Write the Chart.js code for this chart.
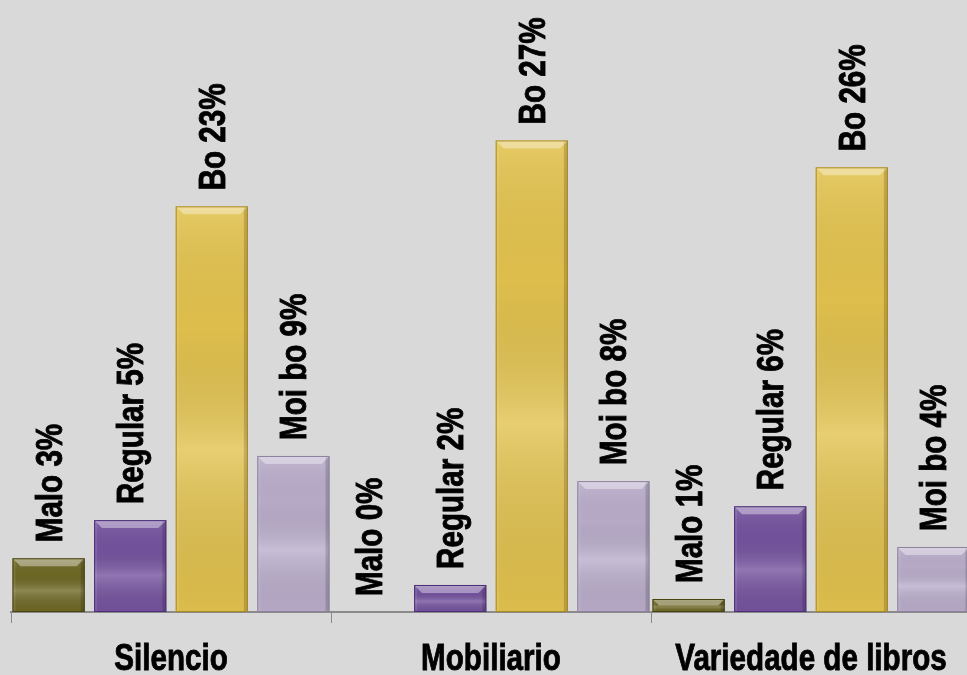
<!DOCTYPE html>
<html>
<head>
<meta charset="utf-8">
<title>Valoración da biblioteca</title>
<script src="https://cdn.jsdelivr.net/npm/chart.js@4.4.0/dist/chart.umd.min.js"></script>
<style>
    html, body { margin: 0; padding: 0; background: #d9d9d9; overflow: hidden; }
    .chart-wrap { position: relative; width: 971px; height: 675px; }
</style>
</head>
<body>
<div class="chart-wrap"><canvas id="valoracionChart"></canvas></div>
<script>
// Chart data
const categories = ['Silencio', 'Mobiliario', 'Variedade de libros'];
const seriesNames = ['Malo', 'Regular', 'Bo', 'Moi bo'];
const maloValues = [3.1, 0, 0.75];
const regularValues = [5.3, 1.56, 6.1];
const boValues = [23.4, 27.2, 25.65];
const moiBoValues = [9.0, 7.55, 3.75];

const labelFont = 'bold 37px "Liberation Sans", Arial, sans-serif';
const narrow = 0.8; // squeeze text to look like Arial Narrow

// Bevel look on top of each bar
const bevelPlugin = {
    id: 'bevel',
    afterDatasetsDraw(chart) {
        const ctx = chart.ctx;
        chart.data.datasets.forEach((ds, i) => {
            chart.getDatasetMeta(i).data.forEach(bar => {
                const left = bar.x - bar.width / 2;
                const right = bar.x + bar.width / 2;
                const top = bar.y;
                const bottom = bar.base;
                const h = bottom - top;
                if (h < 1) return;

                ctx.save();
                // vertical shine
                const g = ctx.createLinearGradient(0, top, 0, bottom);
                g.addColorStop(0, 'rgba(255,255,255,0.12)');
                g.addColorStop(0.3, 'rgba(0,0,0,0.02)');
                g.addColorStop(0.6, 'rgba(255,255,255,0.2)');
                g.addColorStop(1, 'rgba(0,0,0,0.03)');
                ctx.fillStyle = g;
                ctx.fillRect(left, top, bar.width, h);

                // side edges
                const bev = Math.min(8, h / 2);
                ctx.fillStyle = 'rgba(255,255,255,0.10)';
                ctx.fillRect(left, top, 3, h);
                ctx.fillStyle = 'rgba(0,0,0,0.16)';
                ctx.fillRect(right - 4, top, 4, h);

                // top bevel
                ctx.beginPath();
                ctx.moveTo(left, top);
                ctx.lineTo(right, top);
                ctx.lineTo(right - bev, top + bev);
                ctx.lineTo(left + bev, top + bev);
                ctx.closePath();
                ctx.fillStyle = 'rgba(255,255,255,0.38)';
                ctx.fill();

                ctx.strokeStyle = ds.borderColor;
                ctx.lineWidth = 1;
                ctx.strokeRect(left + 0.5, top + 0.5, bar.width - 1, h - 1);
                ctx.restore();
            });
        });
    }
};

// bold-ish text: fill plus a thin stroke
function drawText(ctx, text) {
    ctx.fillText(text, 0, 0);
    ctx.strokeText(text, 0, 0);
}

// Rotated value labels and category labels
const labelPlugin = {
    id: 'labels',
    afterDraw(chart) {
        const ctx = chart.ctx;
        ctx.save();
        ctx.font = labelFont;
        ctx.fillStyle = '#000';
        ctx.strokeStyle = '#000';
        ctx.lineWidth = 0.9;

        chart.data.datasets.forEach((ds, i) => {
            chart.getDatasetMeta(i).data.forEach((bar, j) => {
                const text = seriesNames[i] + ' ' + Math.round(ds.data[j]) + '%';
                ctx.save();
                ctx.translate(bar.x + 13, bar.y - 16);
                ctx.rotate(-Math.PI / 2);
                ctx.scale(narrow, 1);
                ctx.textAlign = 'left';
                ctx.textBaseline = 'alphabetic';
                drawText(ctx, text);
                ctx.restore();
            });
        });

        const xScale = chart.scales.x;
        categories.forEach((cat, i) => {
            ctx.save();
            ctx.translate(xScale.getPixelForValue(i), 670);
            ctx.scale(narrow, 1);
            ctx.textAlign = 'center';
            ctx.textBaseline = 'alphabetic';
            drawText(ctx, cat);
            ctx.restore();
        });
        ctx.restore();
    }
};

document.addEventListener('DOMContentLoaded', function() {
    const ctx = document.getElementById('valoracionChart');

    new Chart(ctx, {
        type: 'bar',
        data: {
            labels: categories,
            datasets: [{
                label: seriesNames[0],
                data: maloValues,
                backgroundColor: '#6f6926',
                borderColor: '#48440f'
            }, {
                label: seriesNames[1],
                data: regularValues,
                backgroundColor: '#75539f',
                borderColor: '#4b2f76'
            }, {
                label: seriesNames[2],
                data: boValues,
                backgroundColor: '#e2c24e',
                borderColor: '#a98922'
            }, {
                label: seriesNames[3],
                data: moiBoValues,
                backgroundColor: '#baadcb',
                borderColor: '#8d829e'
            }]
        },
        options: {
            responsive: true,
            maintainAspectRatio: false,
            animation: false,
            devicePixelRatio: 1,
            layout: {
                padding: { left: 11, right: 0, top: 0, bottom: 0 }
            },
            datasets: {
                bar: {
                    categoryPercentage: 1.02,
                    barPercentage: 0.885,
                    borderWidth: 0
                }
            },
            plugins: {
                legend: { display: false },
                tooltip: { enabled: false }
            },
            scales: {
                x: {
                    grid: {
                        display: true,
                        drawOnChartArea: false,
                        drawTicks: true,
                        tickLength: 11,
                        color: '#8a8a8a',
                        offset: true
                    },
                    border: {
                        display: true,
                        color: '#8a8a8a',
                        width: 2
                    },
                    ticks: { display: false },
                    afterFit: function(scale) {
                        scale.height = 63;
                    }
                },
                y: {
                    display: false,
                    min: 0,
                    max: 35.3
                }
            }
        },
        plugins: [bevelPlugin, labelPlugin]
    });
});
</script>
</body>
</html>
